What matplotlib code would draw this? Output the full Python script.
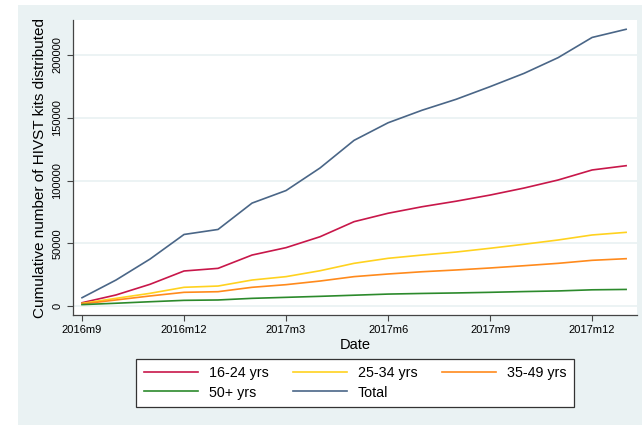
import matplotlib
matplotlib.use("Agg")
import matplotlib.pyplot as plt
from matplotlib.patches import Rectangle

plt.rcParams['font.family'] = ['Liberation Sans', 'DejaVu Sans']

months = ["2016m9", "2016m10", "2016m11", "2016m12", "2017m1", "2017m2", "2017m3",
          "2017m4", "2017m5", "2017m6", "2017m7", "2017m8", "2017m9", "2017m10",
          "2017m11", "2017m12", "2018m1"]
age_16_24 = [2600, 8800, 17300, 27900, 30000, 40600, 46500, 55200, 67200, 73900,
             79100, 83500, 88400, 94000, 100400, 108400, 111800]
age_25_34 = [2100, 6100, 10100, 14900, 15900, 20700, 23400, 28100, 34000, 38000,
             40600, 43000, 46000, 49200, 52600, 56600, 58700]
age_35_49 = [1600, 4800, 8000, 10900, 11400, 14900, 17000, 19900, 23400, 25500,
             27300, 28700, 30300, 32100, 34000, 36400, 37700]
age_50p = [1100, 2200, 3400, 4500, 4800, 6100, 6900, 7700, 8600, 9500,
           10000, 10400, 10900, 11500, 12000, 12900, 13200]
total = [6600, 20700, 37400, 57000, 61000, 82000, 92000, 110000, 132000, 146000,
         156000, 164700, 174800, 185400, 197900, 214000, 220500]

series_labels = ["16-24 yrs", "25-34 yrs", "35-49 yrs", "50+ yrs", "Total"]
colors = ["#c8174a", "#ffd21f", "#ff8a1c", "#2c8a2c", "#4a6687"]
xtick_labels = ["2016m9", "2016m12", "2017m3", "2017m6", "2017m9", "2017m12"]
yticks = [0, 50000, 100000, 150000, 200000]

W, H = 642, 425
fig = plt.figure(figsize=(W / 100, H / 100), dpi=100)
fig.patch.set_facecolor("white")
bg = Rectangle((18 / W, 0), 1 - 18 / W, 1 - 5 / H, transform=fig.transFigure,
               facecolor="#eaf2f3", edgecolor="none", zorder=-10)
fig.add_artist(bg)

ax = fig.add_axes([73 / W, 1 - 315 / H, (637 - 73) / W, (315 - 20) / H])
ax.set_zorder(1)
ax.set_facecolor("white")

x = list(range(len(months)))
data = [age_16_24, age_25_34, age_35_49, age_50p, total]
handles = []
for vals, lab, c in zip(data, series_labels, colors):
    h, = ax.plot(x, vals, color=c, lw=1.2, label=lab, zorder=3)
    handles.append(h)

ax.set_xlim(-0.265, 16.32)
ax.set_ylim(-7171, 227900)
ax.set_xticks([months.index(m) for m in xtick_labels])
ax.set_xticklabels(xtick_labels, fontsize=8)
ax.set_yticks(yticks)
ax.set_yticklabels([str(v) for v in yticks], fontsize=8, rotation=90, va="center")
ax.grid(axis="y", color="#eaf2f3", lw=1.3, zorder=1)
ax.tick_params(axis="both", direction="out", length=4, color="#444444", width=0.8)
for s in ["top", "right"]:
    ax.spines[s].set_visible(False)
for s in ["left", "bottom"]:
    ax.spines[s].set_color("#444444")
    ax.spines[s].set_linewidth(0.9)

ax.set_xlabel("Date", fontsize=10.5, labelpad=2)
ax.set_ylabel("Cumulative number of HIVST kits distributed", fontsize=11, labelpad=4)

order = [0, 3, 1, 4, 2]
leg = fig.legend([handles[i] for i in order], [series_labels[i] for i in order],
                 ncol=3, loc="center",
                 bbox_to_anchor=((136 + 574) / 2 / W, 1 - (359 + 407) / 2 / H),
                 fontsize=10.3, frameon=True, fancybox=False, framealpha=1,
                 facecolor="white", edgecolor="#333333", handlelength=3.8,
                 borderpad=0.5, labelspacing=0.35, handletextpad=0.75,
                 columnspacing=1.7, borderaxespad=0)
leg.get_frame().set_linewidth(0.9)

fig.savefig("out.png", dpi=100)
